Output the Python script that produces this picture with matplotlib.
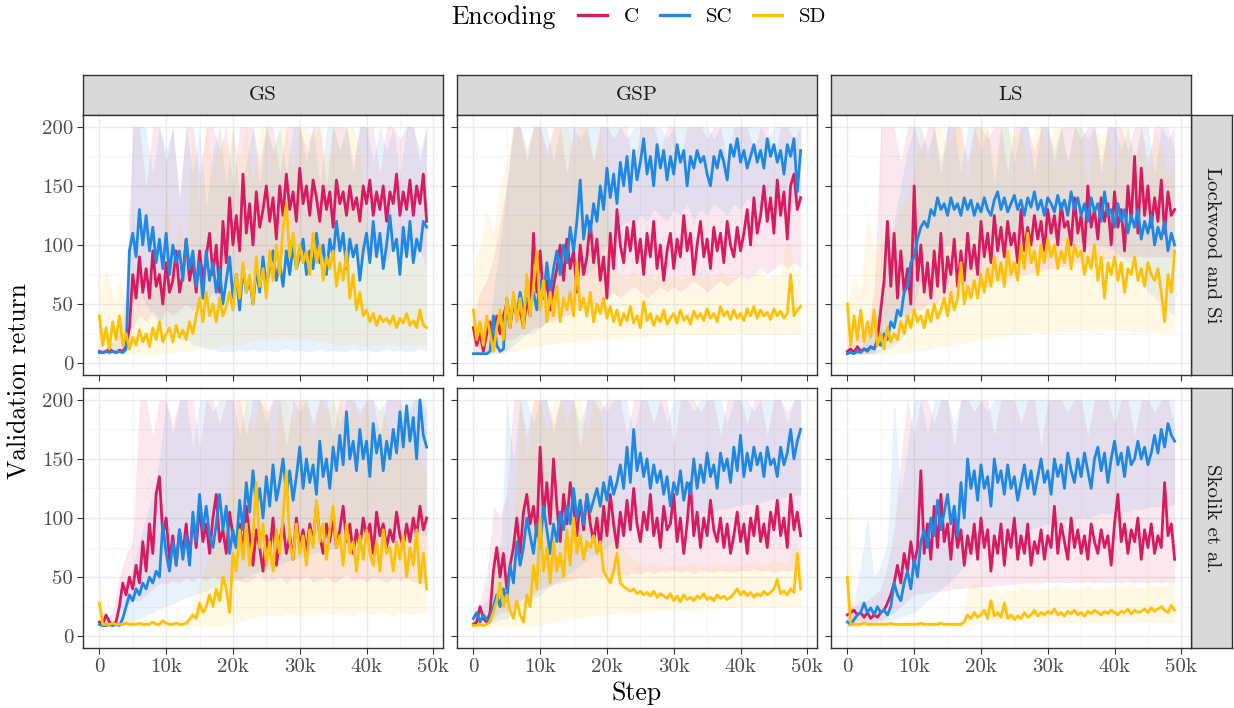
import numpy as np
import matplotlib.pyplot as plt
from matplotlib.lines import Line2D

plt.rcParams['font.family'] = 'cmr10'
plt.rcParams['axes.formatter.use_mathtext'] = True

ENCODINGS = ['C', 'SC', 'SD']
COLORS = {'C': '#D81B60', 'SC': '#1E88E5', 'SD': '#FFC107'}
COLS = ['GS', 'GSP', 'LS']
ROWS = ['Lockwood and Si', 'Skolik et al.']

LINE_EVERY = 500     # steps between validation points of the mean curve
BAND_EVERY = 1000    # steps between points of the min/max ribbon

# ---- Lockwood and Si ----
lw_gs_c = [10, 9, 10, 12, 10, 9, 11, 10,
           14, 30, 75, 55, 90, 60, 80, 55, 95, 65, 75, 50,
           85, 60, 70, 95, 60, 75, 105, 70, 85, 60,
           95, 70, 90, 110, 75, 100, 60, 120, 85, 140,
           100, 125, 95, 160, 110, 135, 100, 145, 115, 130,
           150, 120, 140, 105, 150, 125, 160, 130, 145, 120,
           165, 135, 150, 125, 155, 140, 120, 150, 130, 145,
           115, 155, 135, 145, 125, 150, 130, 140, 120, 150,
           135, 155, 125, 145, 130, 150, 120, 145, 135, 160,
           125, 145, 130, 155, 125, 150, 135, 160, 120]
lw_gs_sc = [9, 9, 10, 9, 10, 9, 10, 9, 12,
            95, 110, 90, 130, 100, 125, 95, 115, 85, 105, 80,
            110, 75, 100, 85, 95, 70, 105, 80, 95, 65,
            85, 55, 95, 70, 85, 60, 80, 50, 70, 90,
            55, 75, 45, 80, 60, 70, 50, 80, 60, 90,
            65, 80, 95, 70, 85, 65, 95, 75, 100, 80,
            90, 105, 75, 95, 80, 110, 85, 100, 75, 105,
            90, 120, 95, 110, 80, 105, 90, 100, 70, 95,
            110, 85, 120, 90, 110, 80, 100, 125, 95, 105,
            75, 115, 90, 120, 85, 105, 95, 120, 115]
lw_gs_sd = [40, 15, 30, 12, 35, 20, 40, 15, 25, 12,
            22, 15, 28, 18, 25, 14, 30, 20, 35, 18,
            25, 30, 18, 32, 22, 28, 20, 35, 25, 40,
            55, 35, 60, 40, 50, 35, 55, 40, 48, 60,
            45, 75, 55, 85, 60, 75, 50, 90, 65, 80,
            55, 95, 70, 100, 75, 115, 135, 90, 110, 80,
            100, 85, 95, 75, 110, 85, 100, 70, 90, 80,
            95, 65, 85, 70, 95, 55, 75, 45, 60, 40,
            45, 35, 42, 32, 40, 35, 38, 33, 40, 30,
            38, 34, 42, 32, 36, 30, 45, 32, 30]
lw_gs_c_lo = [8, 8, 8, 8, 10, 30, 40, 35, 45, 35, 45, 40, 45, 50, 45, 55, 50, 60, 50, 70,
              65, 75, 80, 75, 85, 90, 80, 95, 90, 95, 100, 90, 100, 85, 95, 90, 100, 90, 95, 85,
              95, 90, 95, 85, 100, 90, 95, 85, 95, 80]
lw_gs_c_hi = [12, 14, 18, 25, 60, 200, 200, 150, 200, 200, 170, 200, 140, 200, 200, 160, 200, 200, 180, 200,
              150, 200, 200, 200, 170, 200, 200, 160, 200, 200, 200, 180, 200, 200, 150, 200, 200, 200, 170, 200,
              200, 200, 160, 200, 200, 190, 200, 200, 170, 200]
lw_gs_sc_lo = [8, 8, 8, 8, 8, 50, 60, 50, 40, 35, 30, 25, 20, 20, 15, 15, 12, 12, 10, 10,
               10, 11, 10, 12, 10, 11, 10, 10, 12, 10, 11, 10, 10, 12, 10, 11, 10, 10, 12, 10,
               11, 10, 10, 12, 10, 11, 10, 10, 12, 10]
lw_gs_sc_hi = [8, 8, 8, 8, 30, 200, 200, 200, 160, 200, 180, 200, 140, 200, 160, 200, 130, 180, 200, 150,
               200, 140, 170, 200, 150, 200, 180, 200, 160, 200, 200, 170, 200, 150, 200, 200, 180, 200, 160, 200,
               200, 170, 200, 180, 200, 160, 200, 200, 180, 200]
lw_gs_sd_lo = [8, 8, 8, 8, 8, 8, 8, 8, 8, 8, 9, 9, 10, 10, 10, 12, 12, 12, 14, 15,
               15, 15, 18, 18, 20, 20, 20, 20, 22, 20, 20, 20, 18, 18, 18, 15, 15, 15, 15, 15,
               15, 15, 15, 15, 15, 15, 15, 15, 15, 15]
lw_gs_sd_hi = [60, 80, 55, 70, 50, 60, 80, 55, 90, 70, 150, 80, 120, 90, 200, 130, 200, 160, 200, 180,
               200, 170, 200, 150, 200, 200, 180, 200, 200, 160, 200, 200, 190, 200, 170, 200, 180, 200, 200, 180,
               120, 100, 90, 110, 90, 100, 85, 95, 90, 80]

lw_gsp_c = [30, 15, 25, 10, 25, 35, 15, 40, 25, 40,
            50, 30, 55, 40, 45, 30, 55, 40, 110, 60,
            95, 55, 70, 45, 65, 80, 100, 70, 105, 80,
            95, 60, 100, 75, 90, 120, 85, 105, 70, 90,
            55, 110, 80, 130, 100, 85, 115, 95, 120, 85,
            105, 75, 110, 90, 120, 80, 100, 70, 95, 110,
            80, 105, 90, 125, 95, 110, 75, 100, 120, 90,
            105, 80, 115, 95, 110, 85, 120, 100, 90, 115,
            95, 110, 130, 100, 140, 110, 125, 150, 120, 140,
            110, 155, 125, 145, 105, 150, 160, 130, 140]
lw_gsp_sc = [8, 8, 8, 8, 8, 10, 40, 15, 10, 12,
             55, 35, 50, 40, 60, 45, 55, 50, 60, 45,
             70, 55, 85, 60, 80, 95, 75, 100, 85, 115,
             95, 120, 155, 105, 125, 110, 135, 120, 150, 130,
             165, 140, 160, 135, 170, 150, 175, 145, 180, 155,
             170, 190, 160, 175, 150, 185, 165, 180, 155, 175,
             160, 185, 170, 180, 150, 175, 165, 180, 170, 175,
             160, 150, 175, 165, 180, 170, 155, 185, 175, 190,
             170, 180, 165, 175, 185, 170, 180, 165, 190, 175,
             185, 170, 180, 160, 185, 175, 190, 145, 180]
lw_gsp_sd = [45, 20, 35, 15, 40, 25, 10, 30, 45, 20,
             55, 30, 60, 35, 55, 30, 75, 40, 65, 95,
             45, 70, 35, 60, 40, 65, 35, 55, 45, 60,
             40, 85, 45, 55, 40, 60, 35, 50, 42, 55,
             38, 48, 35, 45, 32, 42, 36, 48, 34, 40,
             30, 52, 36, 42, 32, 40, 35, 45, 33, 38,
             42, 34, 45, 36, 40, 33, 44, 38, 42, 36,
             46, 38, 42, 35, 48, 40, 44, 37, 45, 38,
             42, 36, 46, 40, 48, 38, 45, 40, 43, 37,
             46, 40, 44, 38, 42, 75, 40, 45, 48]
lw_gsp_c_lo = [8, 8, 10, 10, 15, 20, 20, 25, 25, 30, 30, 35, 35, 40, 40, 45, 45, 50, 50, 50,
               55, 60, 55, 60, 65, 60, 55, 60, 65, 60, 65, 60, 65, 70, 65, 60, 65, 70, 65, 70,
               75, 70, 75, 80, 75, 80, 85, 80, 85, 80]
lw_gsp_c_hi = [40, 60, 70, 90, 120, 150, 200, 200, 170, 200, 200, 180, 200, 200, 160, 200, 200, 200, 170, 200,
               200, 190, 200, 200, 160, 200, 200, 200, 180, 200, 200, 170, 200, 200, 200, 190, 200, 200, 170, 200,
               200, 200, 180, 200, 200, 170, 200, 200, 190, 200]
lw_gsp_sc_lo = [8, 8, 8, 8, 8, 10, 15, 20, 25, 25, 30, 35, 40, 50, 55, 60, 70, 75, 80, 90,
                100, 110, 115, 120, 115, 125, 120, 130, 125, 120, 130, 125, 135, 120, 130, 125, 135, 130, 125, 135,
                130, 140, 135, 130, 140, 135, 130, 140, 135, 130]
lw_gsp_sc_hi = [10, 10, 15, 60, 100, 150, 200, 200, 180, 200, 200, 200, 170, 200, 200, 200, 190, 200, 200, 200,
                200, 200, 200, 190, 200, 200, 200, 200, 200, 190, 200, 200, 200, 200, 200, 200, 190, 200, 200, 200,
                200, 200, 200, 200, 190, 200, 200, 200, 200, 200]
lw_gsp_sd_lo = [8, 8, 8, 8, 8, 10, 10, 11, 12, 13, 15, 15, 16, 17, 18, 18, 19, 19, 20, 20,
                20, 21, 22, 22, 23, 22, 23, 24, 23, 24, 25, 24, 25, 24, 25, 24, 25, 25, 24, 25,
                25, 24, 25, 25, 24, 25, 25, 24, 25, 25]
lw_gsp_sd_hi = [80, 100, 130, 110, 150, 170, 200, 200, 180, 200, 200, 170, 200, 200, 200, 180, 200, 200, 170, 200,
                150, 80, 75, 70, 80, 72, 75, 70, 78, 72, 75, 70, 74, 76, 72, 75, 70, 78, 74, 72,
                76, 70, 75, 78, 72, 76, 74, 110, 80, 78]

lw_ls_c = [10, 12, 9, 14, 10, 12, 11, 14, 12, 20,
           45, 70, 120, 65, 110, 55, 95, 60, 80, 50,
           150, 70, 100, 60, 85, 55, 95, 65, 110, 60,
           90, 75, 105, 65, 95, 70, 110, 80, 100, 75,
           120, 90, 110, 85, 125, 95, 115, 90, 120, 100,
           110, 85, 130, 95, 115, 100, 125, 105, 120, 95,
           130, 110, 125, 100, 135, 115, 120, 100, 140, 110,
           125, 95, 150, 115, 130, 105, 140, 120, 135, 100,
           145, 115, 130, 95, 150, 120, 175, 110, 165, 125,
           150, 115, 140, 120, 155, 110, 145, 125, 130]
lw_ls_sc = [8, 9, 8, 10, 9, 12, 10, 14, 12, 18,
            15, 25, 20, 35, 30, 45, 40, 60, 65, 85,
            90, 105, 115, 120, 115, 130, 125, 140, 130, 135,
            125, 140, 130, 135, 125, 140, 130, 138, 125, 135,
            128, 140, 130, 125, 138, 145, 130, 140, 128, 135,
            142, 130, 138, 125, 140, 132, 145, 130, 138, 125,
            140, 135, 128, 142, 130, 138, 125, 145, 130, 140,
            125, 135, 120, 140, 128, 135, 120, 145, 125, 130,
            115, 135, 120, 130, 110, 125, 115, 130, 105, 120,
            110, 125, 100, 115, 105, 120, 95, 110, 100]
lw_ls_sd = [50, 15, 40, 20, 45, 18, 35, 22, 45, 15,
            25, 12, 30, 18, 25, 20, 35, 25, 40, 30,
            45, 35, 40, 30, 45, 35, 50, 38, 45, 55,
            40, 60, 45, 55, 85, 50, 65, 55, 70, 55,
            75, 60, 80, 65, 90, 70, 85, 65, 95, 75,
            85, 70, 100, 80, 110, 85, 95, 75, 100, 85,
            105, 90, 100, 80, 95, 85, 105, 80, 100, 90,
            95, 75, 90, 80, 100, 70, 90, 55, 85, 75,
            90, 70, 85, 60, 80, 75, 90, 70, 80, 65,
            85, 75, 70, 80, 60, 35, 75, 60, 95]
lw_ls_c_lo = [8, 8, 8, 8, 8, 20, 30, 35, 40, 40, 45, 45, 50, 50, 55, 55, 55, 60, 60, 65,
              65, 65, 70, 70, 72, 72, 75, 75, 78, 78, 80, 80, 82, 82, 85, 85, 85, 88, 88, 88,
              90, 90, 90, 90, 90, 90, 90, 90, 90, 90]
lw_ls_c_hi = [15, 20, 25, 30, 60, 200, 200, 200, 170, 200, 200, 180, 200, 200, 160, 200, 200, 200, 170, 200,
              200, 190, 200, 200, 160, 200, 200, 200, 180, 200, 200, 170, 200, 200, 200, 190, 200, 200, 170, 200,
              200, 200, 180, 200, 200, 170, 200, 200, 190, 200]
lw_ls_sc_lo = [8, 8, 8, 8, 8, 10, 12, 15, 20, 30, 50, 70, 85, 95, 100, 100, 102, 104, 105, 105,
               106, 106, 108, 108, 108, 108, 108, 108, 106, 106, 105, 105, 104, 104, 103, 102, 101, 100, 100, 98,
               95, 90, 85, 80, 70, 60, 55, 50, 45, 40]
lw_ls_sc_hi = [10, 12, 14, 20, 30, 60, 80, 120, 150, 180, 200, 200, 180, 200, 170, 200, 200, 160, 200, 200,
               180, 200, 150, 200, 200, 170, 200, 200, 160, 200, 200, 180, 200, 170, 200, 200, 190, 200, 160, 200,
               200, 180, 200, 170, 200, 200, 160, 200, 200, 180]
lw_ls_sd_lo = [8, 8, 8, 8, 8, 8, 8, 9, 8, 9, 10, 11, 11, 13, 14, 14, 16, 17, 17, 19,
               20, 20, 22, 23, 23, 25, 24, 25, 26, 25, 25, 26, 27, 26, 27, 28, 27, 28, 29, 28,
               28, 27, 28, 26, 27, 25, 26, 25, 26, 25]
lw_ls_sd_hi = [50, 75, 60, 130, 90, 100, 120, 110, 130, 140, 160, 200, 170, 200, 200, 180, 200, 200, 150, 200,
               200, 200, 170, 200, 200, 190, 200, 160, 200, 200, 180, 200, 200, 170, 200, 200, 150, 200, 190, 200,
               160, 200, 200, 170, 200, 150, 200, 180, 160, 170]

# ---- Skolik et al. ----
sk_gs_c = [12, 10, 18, 12, 10, 12, 25, 45, 35, 50,
           40, 60, 45, 80, 55, 95, 70, 120, 135, 85,
           100, 65, 85, 60, 90, 70, 95, 65, 100, 75,
           110, 80, 95, 70, 100, 120, 80, 90, 70, 105,
           85, 75, 95, 70, 110, 85, 60, 90, 75, 55,
           85, 70, 100, 60, 80, 95, 70, 85, 65, 100,
           75, 90, 70, 95, 80, 110, 85, 70, 95, 80,
           100, 75, 90, 110, 80, 95, 70, 90, 75, 100,
           85, 95, 70, 105, 85, 95, 75, 90, 80, 105,
           85, 75, 95, 80, 100, 85, 110, 90, 100]
sk_gs_sc = [10, 9, 9, 10, 9, 10, 9, 15, 25, 35,
            30, 40, 35, 45, 40, 50, 45, 55, 50, 95,
            70, 55, 80, 60, 90, 65, 85, 60, 105, 80,
            120, 90, 110, 85, 75, 95, 120, 90, 110, 70,
            90, 75, 115, 90, 130, 105, 140, 110, 125, 100,
            135, 110, 145, 115, 130, 150, 120, 140, 115, 135,
            160, 125, 150, 130, 145, 120, 165, 135, 150, 125,
            160, 140, 170, 145, 190, 150, 165, 140, 175, 150,
            165, 135, 180, 155, 170, 140, 165, 150, 175, 155,
            190, 160, 195, 165, 185, 150, 200, 170, 160]
sk_gs_sd = [28, 10, 10, 10, 11, 10, 10, 10, 11, 10,
            10, 10, 11, 10, 10, 10, 12, 10, 10, 13,
            11, 10, 10, 11, 10, 10, 11, 14, 18, 15,
            28, 20, 25, 35, 25, 40, 30, 50, 40, 20,
            70, 55, 90, 65, 95, 60, 85, 130, 75, 95,
            60, 80, 55, 90, 70, 100, 140, 80, 65, 95,
            70, 85, 60, 90, 75, 115, 80, 95, 65, 90,
            110, 75, 85, 60, 95, 70, 80, 55, 85, 65,
            90, 70, 60, 80, 55, 90, 70, 75, 55, 80,
            65, 85, 50, 75, 60, 90, 45, 70, 40]
sk_gs_c_lo = [8, 8, 8, 20, 25, 30, 30, 35, 40, 45, 44, 47, 45, 49, 46, 50, 47, 51, 48, 46,
              50, 47, 45, 49, 51, 46, 48, 50, 45, 49, 47, 51, 46, 48, 50, 45, 48, 52, 47, 49,
              46, 50, 48, 45, 49, 47, 50, 46, 45, 44]
sk_gs_c_hi = [15, 15, 20, 50, 70, 80, 200, 200, 170, 200, 200, 180, 200, 200, 200, 160, 200, 200, 180, 200,
              200, 200, 170, 200, 200, 190, 200, 200, 160, 200, 200, 200, 180, 200, 200, 170, 200, 200, 200, 190,
              200, 200, 170, 200, 200, 200, 180, 200, 200, 190]
sk_gs_sc_lo = [8, 8, 8, 8, 10, 12, 15, 18, 20, 23, 25, 27, 30, 33, 34, 37, 38, 41, 43, 44,
               46, 48, 50, 53, 55, 57, 58, 61, 63, 65, 66, 68, 70, 71, 73, 74, 76, 77, 78, 80,
               80, 82, 81, 83, 84, 83, 85, 84, 86, 85]
sk_gs_sc_hi = [10, 10, 10, 15, 40, 60, 80, 100, 120, 150, 200, 170, 200, 200, 160, 200, 200, 190, 200, 200,
               200, 170, 200, 200, 200, 180, 200, 200, 200, 200, 190, 200, 200, 200, 200, 200, 180, 200, 200, 200,
               200, 200, 190, 200, 200, 200, 200, 200, 200, 200]
sk_gs_sd_lo = [8, 8, 8, 8, 8, 8, 8, 8, 8, 8, 8, 8, 8, 8, 8, 8, 8, 8, 8, 9,
               10, 12, 14, 15, 16, 17, 18, 17, 19, 18, 17, 19, 18, 20, 19, 18, 20, 19, 17, 20,
               19, 18, 20, 19, 17, 20, 19, 18, 20, 19]
sk_gs_sd_hi = [50, 12, 13, 12, 14, 13, 12, 15, 13, 14, 12, 13, 15, 14, 25, 45, 60, 80, 100, 120,
               160, 200, 200, 170, 200, 200, 150, 200, 200, 180, 200, 200, 160, 200, 190, 200, 200, 170, 200, 180,
               200, 160, 200, 180, 150, 200, 170, 160, 150, 140]

sk_gsp_c = [10, 12, 25, 15, 12, 20, 55, 75, 50, 70,
            40, 60, 75, 100, 70, 105, 120, 95, 110, 85,
            160, 100, 130, 95, 150, 110, 80, 120, 95, 130,
            110, 85, 115, 90, 120, 95, 80, 100, 75, 110,
            85, 120, 95, 75, 105, 85, 115, 90, 125, 95,
            80, 105, 90, 120, 85, 100, 75, 110, 90, 95,
            120, 80, 100, 70, 95, 130, 85, 105, 75, 100,
            85, 115, 90, 80, 100, 75, 95, 70, 85, 105,
            80, 95, 70, 100, 85, 110, 80, 95, 75, 105,
            90, 115, 85, 100, 75, 120, 90, 105, 85]
sk_gsp_sc = [15, 20, 12, 18, 14, 15, 25, 35, 25, 40,
             30, 60, 45, 80, 60, 75, 100, 85, 70, 95,
             75, 110, 90, 70, 95, 80, 105, 90, 110, 95,
             125, 100, 115, 95, 120, 105, 115, 125, 110, 130,
             115, 135, 120, 130, 145, 125, 160, 130, 175, 140,
             155, 135, 150, 125, 145, 130, 140, 120, 135, 110,
             130, 120, 140, 115, 130, 120, 150, 125, 145, 130,
             155, 135, 145, 125, 155, 140, 150, 130, 160, 140,
             170, 135, 155, 140, 160, 145, 155, 135, 160, 145,
             150, 135, 160, 145, 155, 175, 150, 165, 175]
sk_gsp_sd = [9, 9, 10, 9, 10, 12, 20, 30, 45, 25,
             35, 22, 15, 30, 18, 12, 35, 25, 60, 40,
             100, 55, 75, 45, 80, 55, 70, 50, 90, 60,
             100, 70, 85, 65, 80, 75, 85, 70, 80, 55,
             50, 45, 55, 70, 45, 42, 40, 38, 40, 36,
             38, 35, 37, 34, 38, 33, 36, 34, 32, 36,
             30, 34, 29, 35, 31, 33, 30, 34, 32, 36,
             31, 33, 30, 35, 32, 34, 31, 33, 36, 40,
             35, 38, 34, 37, 33, 36, 34, 38, 35, 37,
             40, 48, 36, 38, 35, 40, 37, 70, 40]
sk_gsp_c_lo = [8, 10, 10, 15, 20, 20, 25, 30, 35, 35, 40, 42, 44, 45, 47, 48, 50, 49, 51, 50,
               52, 50, 53, 51, 54, 52, 55, 53, 55, 54, 56, 54, 55, 53, 56, 55, 54, 56, 55, 54,
               56, 55, 57, 55, 56, 54, 56, 55, 57, 55]
sk_gsp_c_hi = [15, 30, 50, 110, 100, 120, 200, 200, 170, 200, 200, 200, 180, 200, 200, 200, 160, 200, 200, 190,
               200, 200, 200, 170, 200, 200, 200, 180, 200, 200, 160, 200, 200, 200, 190, 200, 200, 170, 200, 200,
               200, 180, 200, 200, 170, 200, 200, 190, 200, 200]
sk_gsp_sc_lo = [8, 10, 10, 12, 14, 15, 20, 25, 28, 32, 35, 40, 44, 48, 52, 55, 60, 64, 68, 72,
                75, 80, 85, 90, 95, 100, 98, 100, 97, 99, 100, 102, 100, 103, 105, 104, 106, 108, 107, 110,
                110, 112, 111, 113, 115, 116, 117, 118, 119, 120]
sk_gsp_sc_hi = [25, 25, 30, 40, 60, 200, 150, 200, 200, 180, 200, 200, 170, 200, 200, 200, 180, 200, 200, 200,
                190, 200, 200, 200, 170, 200, 200, 200, 200, 180, 200, 200, 200, 190, 200, 200, 200, 200, 180, 200,
                200, 200, 190, 200, 200, 200, 200, 180, 200, 200]
sk_gsp_sd_lo = [8, 8, 8, 8, 8, 8, 8, 8, 8, 9, 10, 11, 12, 13, 14, 15, 15, 16, 17, 18,
                18, 19, 19, 20, 20, 20, 21, 21, 22, 22, 22, 23, 22, 23, 23, 24, 23, 24, 24, 24,
                25, 24, 25, 25, 24, 25, 25, 25, 25, 25]
sk_gsp_sd_hi = [12, 15, 25, 50, 80, 60, 90, 200, 150, 200, 200, 170, 200, 200, 180, 200, 200, 170, 200, 200,
                120, 100, 80, 70, 65, 62, 60, 62, 58, 60, 61, 59, 60, 62, 60, 58, 61, 60, 62, 60,
                59, 61, 63, 60, 62, 65, 63, 62, 80, 64]

sk_ls_c = [18, 20, 22, 18, 20, 16, 20, 15, 18, 16,
           20, 22, 28, 35, 45, 60, 45, 70, 55, 80,
           60, 75, 140, 70, 95, 65, 110, 75, 120, 80,
           95, 65, 100, 75, 90, 60, 85, 70, 95, 65,
           100, 75, 90, 55, 85, 70, 95, 60, 90, 75,
           100, 65, 85, 70, 95, 60, 80, 70, 90, 65,
           85, 75, 110, 70, 95, 80, 65, 100, 75, 90,
           70, 85, 65, 95, 80, 70, 90, 75, 85, 60,
           95, 120, 80, 95, 70, 90, 80, 100, 65, 90,
           75, 95, 70, 85, 75, 130, 85, 95, 65]
sk_ls_sc = [12, 10, 14, 18, 20, 28, 20, 24, 18, 25,
            20, 22, 18, 25, 45, 35, 30, 45, 55, 40,
            65, 50, 80, 90, 75, 100, 85, 115, 90, 105,
            120, 95, 110, 85, 130, 100, 150, 125, 140, 115,
            145, 125, 135, 110, 150, 130, 140, 120, 145, 125,
            135, 115, 130, 145, 125, 140, 120, 135, 150, 130,
            140, 120, 150, 135, 145, 125, 155, 140, 130, 150,
            135, 155, 140, 125, 150, 160, 140, 155, 130, 150,
            165, 145, 155, 135, 160, 145, 150, 165, 150, 160,
            145, 155, 170, 155, 175, 160, 180, 170, 165]
sk_ls_sd = [50, 10, 10, 10, 10, 11, 10, 10, 10, 10,
            10, 10, 10, 11, 10, 10, 10, 10, 10, 10,
            10, 10, 11, 10, 10, 10, 10, 10, 11, 10,
            10, 10, 10, 10, 10, 12, 18, 15, 20, 16,
            18, 22, 15, 30, 17, 20, 16, 28, 15, 18,
            14, 17, 15, 20, 16, 18, 22, 17, 20, 18,
            21, 19, 23, 18, 20, 17, 21, 19, 22, 18,
            20, 17, 21, 19, 22, 20, 18, 21, 19, 22,
            20, 18, 21, 20, 23, 19, 22, 20, 21, 23,
            20, 24, 21, 23, 25, 22, 20, 26, 22]
sk_ls_c_lo = [8, 12, 12, 12, 12, 14, 16, 20, 25, 30, 35, 36, 37, 38, 38, 39, 40, 40, 41, 41,
              42, 42, 43, 43, 44, 44, 45, 45, 45, 45, 46, 45, 46, 45, 46, 45, 46, 45, 46, 45,
              46, 45, 46, 45, 46, 45, 46, 45, 46, 45]
sk_ls_c_hi = [30, 25, 30, 30, 35, 40, 60, 90, 150, 200, 170, 200, 200, 180, 200, 200, 160, 200, 200, 190,
              200, 200, 170, 200, 200, 200, 180, 200, 200, 160, 200, 200, 200, 190, 200, 200, 170, 200, 200, 200,
              180, 200, 200, 170, 200, 200, 190, 200, 200, 180]
sk_ls_sc_lo = [8, 8, 10, 10, 10, 10, 12, 14, 16, 18, 20, 25, 30, 34, 40, 44, 50, 56, 64, 70,
               74, 78, 80, 83, 84, 86, 87, 90, 91, 93, 95, 96, 98, 97, 99, 101, 100, 102, 104, 103,
               105, 106, 105, 108, 107, 109, 110, 109, 110, 111]
sk_ls_sc_hi = [15, 30, 60, 100, 50, 60, 80, 200, 120, 160, 200, 200, 170, 200, 200, 200, 180, 200, 200, 200,
               200, 190, 200, 200, 200, 200, 200, 200, 200, 200, 200, 200, 200, 200, 200, 200, 200, 200, 200, 200,
               200, 200, 200, 200, 200, 200, 200, 200, 200, 200]
sk_ls_sd_lo = [8, 8, 8, 8, 8, 8, 8, 8, 8, 8, 8, 8, 8, 8, 8, 8, 8, 8, 9, 10,
               10, 11, 10, 11, 12, 11, 12, 11, 12, 12, 11, 12, 12, 11, 12, 12, 11, 12, 12, 12,
               11, 12, 12, 12, 11, 12, 12, 12, 12, 12]
sk_ls_sd_hi = [120, 12, 12, 12, 12, 12, 12, 12, 12, 12, 12, 12, 12, 12, 12, 12, 12, 12, 40, 45,
               40, 38, 42, 36, 40, 38, 42, 40, 38, 41, 39, 43, 40, 42, 39, 41, 44, 40, 42, 41,
               43, 40, 44, 42, 41, 45, 43, 42, 44, 43]

runs = {
    ('Lockwood and Si', 'GS'): {
        'C': (lw_gs_c, lw_gs_c_lo, lw_gs_c_hi),
        'SC': (lw_gs_sc, lw_gs_sc_lo, lw_gs_sc_hi),
        'SD': (lw_gs_sd, lw_gs_sd_lo, lw_gs_sd_hi)},
    ('Lockwood and Si', 'GSP'): {
        'C': (lw_gsp_c, lw_gsp_c_lo, lw_gsp_c_hi),
        'SC': (lw_gsp_sc, lw_gsp_sc_lo, lw_gsp_sc_hi),
        'SD': (lw_gsp_sd, lw_gsp_sd_lo, lw_gsp_sd_hi)},
    ('Lockwood and Si', 'LS'): {
        'C': (lw_ls_c, lw_ls_c_lo, lw_ls_c_hi),
        'SC': (lw_ls_sc, lw_ls_sc_lo, lw_ls_sc_hi),
        'SD': (lw_ls_sd, lw_ls_sd_lo, lw_ls_sd_hi)},
    ('Skolik et al.', 'GS'): {
        'C': (sk_gs_c, sk_gs_c_lo, sk_gs_c_hi),
        'SC': (sk_gs_sc, sk_gs_sc_lo, sk_gs_sc_hi),
        'SD': (sk_gs_sd, sk_gs_sd_lo, sk_gs_sd_hi)},
    ('Skolik et al.', 'GSP'): {
        'C': (sk_gsp_c, sk_gsp_c_lo, sk_gsp_c_hi),
        'SC': (sk_gsp_sc, sk_gsp_sc_lo, sk_gsp_sc_hi),
        'SD': (sk_gsp_sd, sk_gsp_sd_lo, sk_gsp_sd_hi)},
    ('Skolik et al.', 'LS'): {
        'C': (sk_ls_c, sk_ls_c_lo, sk_ls_c_hi),
        'SC': (sk_ls_sc, sk_ls_sc_lo, sk_ls_sc_hi),
        'SD': (sk_ls_sd, sk_ls_sd_lo, sk_ls_sd_hi)},
}

W, H = 1234, 708
fig = plt.figure(figsize=(W / 100, H / 100), dpi=100)

col_left = [83, 457, 831]
col_w = 360
row_top = [115, 388]
row_h = 260
strip_h = 40
EDGE = '#333333'


def frac(x, y, w, h):
    # pixel box (top-left origin) -> figure fraction rect
    return [x / W, 1 - (y + h) / H, w / W, h / H]


def style_strip(ax, label, rotation=0):
    ax.set_facecolor('#D9D9D9')
    ax.set_xticks([])
    ax.set_yticks([])
    for s in ax.spines.values():
        s.set_color(EDGE)
        s.set_linewidth(1.0)
    ax.text(0.5, 0.5, label, transform=ax.transAxes, ha='center', va='center',
            fontsize=15, color='#1A1A1A', rotation=rotation)


for j, col in enumerate(COLS):
    sax = fig.add_axes(frac(col_left[j], row_top[0] - strip_h, col_w, strip_h))
    style_strip(sax, col)

for i, row in enumerate(ROWS):
    sax = fig.add_axes(frac(col_left[2] + col_w, row_top[i], 41, row_h))
    style_strip(sax, row, rotation=270)

for i, row in enumerate(ROWS):
    for j, col in enumerate(COLS):
        ax = fig.add_axes(frac(col_left[j], row_top[i], col_w, row_h))
        data = runs[(row, col)]
        # min/max ribbons first, mean curves on top
        for enc in ENCODINGS:
            mean, lo, hi = data[enc]
            xb = np.arange(len(lo)) * BAND_EVERY
            ax.fill_between(xb, lo, hi, color=COLORS[enc], alpha=0.1, lw=0)
        for enc in ENCODINGS:
            mean = data[enc][0]
            xs = np.arange(len(mean)) * LINE_EVERY
            ax.plot(xs, mean, color=COLORS[enc], lw=2.0)

        ax.set_xlim(-2450, 51450)
        ax.set_ylim(-10, 210)
        ax.set_xticks(np.arange(0, 50001, 10000))
        ax.set_xticks(np.arange(5000, 50000, 10000), minor=True)
        ax.set_yticks([0, 50, 100, 150, 200])
        ax.set_yticks([25, 75, 125, 175], minor=True)
        ax.grid(which='major', color='#EBEBEB', lw=1.0)
        ax.grid(which='minor', color='#F4F4F4', lw=0.6)
        ax.set_axisbelow(True)
        ax.tick_params(which='major', length=4, width=0.8, color=EDGE,
                       labelsize=15, labelcolor='#4D4D4D', pad=3)
        ax.tick_params(which='minor', length=0)
        for s in ax.spines.values():
            s.set_color(EDGE)
            s.set_linewidth(1.0)
        if i == 1:
            ax.set_xticklabels(['0', '10k', '20k', '30k', '40k', '50k'])
        else:
            ax.set_xticklabels([])
        if j == 0:
            ax.set_yticklabels(['0', '50', '100', '150', '200'])
        else:
            ax.set_yticklabels([])

fig.text(20 / W, 1 - 381 / H, 'Validation return', rotation=90,
         ha='center', va='center', fontsize=18.5)
fig.text(637 / W, 1 - 693 / H, 'Step', ha='center', va='center', fontsize=18.5)

fig.text(451 / W, 1 - 17 / H, 'Encoding', ha='left', va='center', fontsize=18.5)
handles = [Line2D([], [], color=COLORS[e], lw=2.4) for e in ENCODINGS]
fig.legend(handles, ENCODINGS, loc='center left', bbox_to_anchor=(578 / W, 1 - 17 / H),
           ncol=3, frameon=False, fontsize=15, handlelength=1.4, handletextpad=0.8,
           columnspacing=1.0, borderaxespad=0, borderpad=0)

fig.savefig('out.png', dpi=100)
